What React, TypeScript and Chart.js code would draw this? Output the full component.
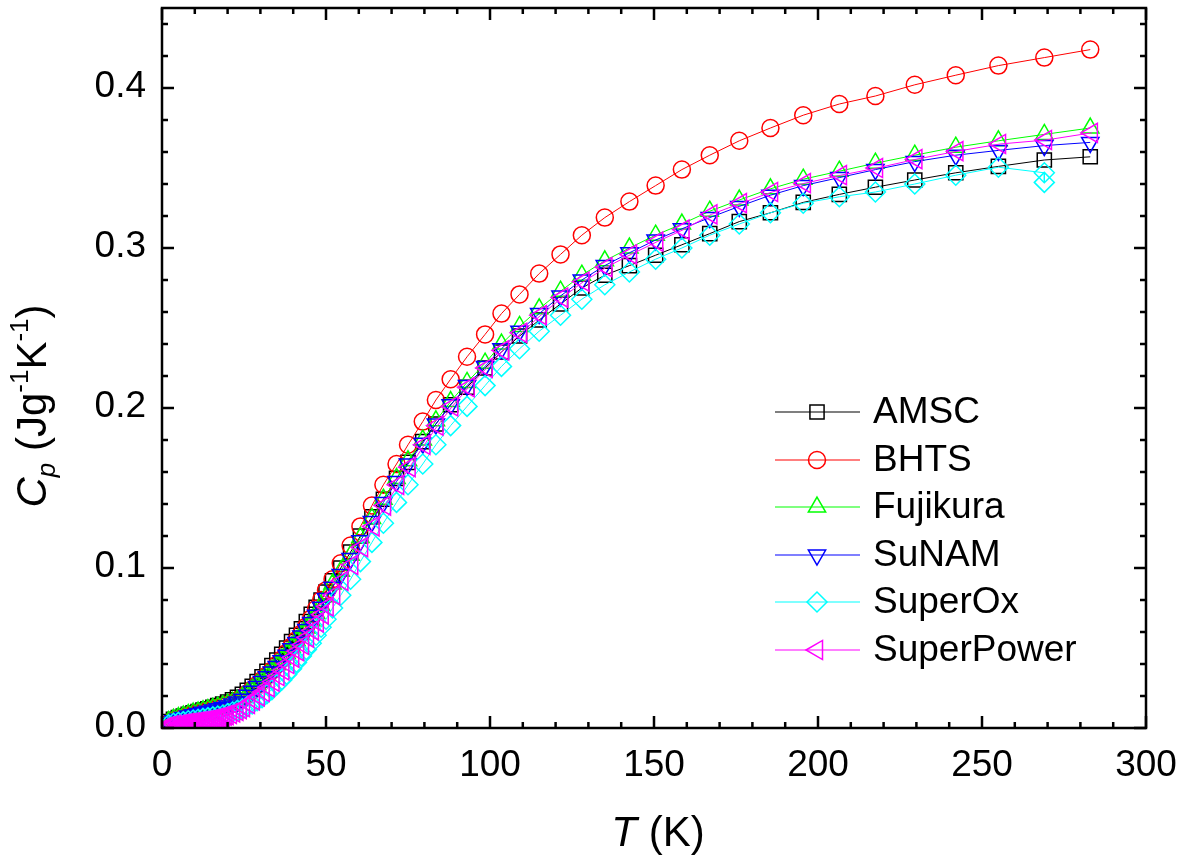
import { useEffect, useRef } from 'react';
import { Chart, registerables } from 'chart.js';

Chart.register(...registerables);

// ---------- data (T in K, Cp in J g^-1 K^-1) ----------
const temps = [
  2, 3.5, 5, 6.5, 8, 9.5, 11, 12.5, 14, 15.5, 17, 18.5, 20,
  21.5, 23, 24.5, 26, 27.5, 29, 30.5, 32, 33.5, 35, 36.5, 38, 39.5, 41, 42.5, 44, 45.5, 47, 48.5, 50,
  52, 54.5, 57.5, 60.5, 64, 67.5, 71.5, 75, 79.5, 83.5, 88, 93, 98.5, 103.5, 109, 115, 121.5, 128,
  135, 142.5, 150.5, 158.5, 167, 176, 185.5, 195.5, 206.5, 217.5, 229.5, 242, 255, 269, 283,
];

const amsc = [
  0.004, 0.0055, 0.0065, 0.0075, 0.0085, 0.0095, 0.0103, 0.0112, 0.012, 0.013, 0.014, 0.015, 0.0162,
  0.0176, 0.0192, 0.021, 0.0235, 0.026, 0.029, 0.032, 0.0355, 0.039, 0.0425, 0.046, 0.05, 0.054, 0.058, 0.062, 0.0665, 0.071, 0.0755, 0.08, 0.085,
  0.092, 0.1, 0.11, 0.12, 0.132, 0.143, 0.156, 0.166, 0.179, 0.19, 0.202, 0.213, 0.225, 0.235, 0.245, 0.255, 0.265, 0.275,
  0.283, 0.289, 0.2955, 0.302, 0.309, 0.3165, 0.322, 0.3285, 0.3335, 0.338, 0.3425, 0.347, 0.351, 0.355, 0.357,
];

const bhts = [
  0.003, 0.0045, 0.0055, 0.0065, 0.0075, 0.0085, 0.0093, 0.01, 0.011, 0.0118, 0.0126, 0.0135, 0.0145,
  0.0158, 0.0172, 0.019, 0.0215, 0.024, 0.027, 0.03, 0.033, 0.036, 0.0395, 0.043, 0.047, 0.051, 0.055, 0.059, 0.0635, 0.0685, 0.0745, 0.08, 0.086,
  0.093, 0.103, 0.114, 0.126, 0.139, 0.152, 0.165, 0.177, 0.1915, 0.205, 0.218, 0.232, 0.246, 0.259, 0.271, 0.284, 0.296, 0.308,
  0.319, 0.329, 0.339, 0.349, 0.358, 0.367, 0.375, 0.383, 0.39, 0.395, 0.402, 0.408, 0.414, 0.419, 0.424,
];

const fujikura = [
  0.004, 0.0055, 0.0065, 0.0075, 0.0085, 0.0093, 0.01, 0.0108, 0.0115, 0.0123, 0.013, 0.0138, 0.0148,
  0.016, 0.0173, 0.019, 0.0215, 0.024, 0.027, 0.03, 0.033, 0.036, 0.0395, 0.043, 0.0465, 0.0505, 0.0545, 0.0585, 0.0625, 0.067, 0.0715, 0.0765, 0.082,
  0.09, 0.098, 0.108, 0.119, 0.131, 0.143, 0.156, 0.167, 0.18, 0.192, 0.204, 0.216, 0.228, 0.24, 0.251, 0.262, 0.273, 0.283,
  0.292, 0.3, 0.308, 0.315, 0.323, 0.33, 0.337, 0.343, 0.348, 0.353, 0.358, 0.363, 0.367, 0.371, 0.375,
];

const sunam = [
  0.003, 0.0045, 0.0055, 0.0065, 0.0075, 0.0083, 0.009, 0.0098, 0.0105, 0.0113, 0.012, 0.0128, 0.0138,
  0.015, 0.0163, 0.018, 0.0205, 0.023, 0.026, 0.029, 0.032, 0.035, 0.0385, 0.042, 0.0455, 0.0495, 0.0535, 0.0575, 0.0615, 0.066, 0.0705, 0.0755, 0.081,
  0.088, 0.096, 0.106, 0.117, 0.129, 0.141, 0.154, 0.165, 0.178, 0.19, 0.202, 0.214, 0.226, 0.237, 0.248, 0.259, 0.27, 0.28,
  0.289, 0.297, 0.305, 0.312, 0.319, 0.326, 0.333, 0.339, 0.344, 0.349, 0.354, 0.358, 0.361, 0.364, 0.366,
];

const superOxTemps = [
  2, 3.5, 5, 6.5, 8, 9.5, 11, 12.5, 14, 15.5, 17, 18.5, 20,
  21.5, 23, 24.5, 26, 27.5, 29, 30.5, 32, 33.5, 35, 36.5, 38, 39.5, 41, 42.5, 44, 45.5, 47, 48.5, 50,
  52, 54.5, 57.5, 60.5, 64, 67.5, 71.5, 75, 79.5, 83.5, 88, 93, 98.5, 103.5, 109, 115, 121.5, 128,
  135, 142.5, 150.5, 158.5, 167, 176, 185.5, 195.5, 206.5, 217.5, 229.5, 242, 255, 269, 269,
];

const superOx = [
  0.002, 0.003, 0.0035, 0.004, 0.0045, 0.005, 0.0055, 0.006, 0.0065, 0.007, 0.0075, 0.008, 0.009,
  0.01, 0.011, 0.012, 0.0135, 0.015, 0.017, 0.019, 0.0215, 0.024, 0.027, 0.03, 0.0335, 0.037, 0.041, 0.045, 0.049, 0.053, 0.058, 0.063, 0.068,
  0.075, 0.083, 0.093, 0.104, 0.116, 0.128, 0.141, 0.152, 0.165, 0.177, 0.189, 0.201, 0.214, 0.226, 0.237, 0.248, 0.258, 0.268,
  0.277, 0.285, 0.293, 0.3, 0.308, 0.315, 0.322, 0.328, 0.332, 0.335, 0.34, 0.3455, 0.3505, 0.347, 0.341,
];

const superPowerTemps = [
  1, 2, 3, 4, 5, 5.6, 6.2, 6.8, 7.4, 8, 8.6, 9.2, 9.8, 10.4, 11, 11.6, 12.2, 12.8, 13.4, 14,
  14.6, 15.2, 15.8, 16.4, 17, 17.6, 18.2, 18.8, 19.4, 20, 21, 22, 23, 24, 25,
  26.5, 28, 29.5, 31, 32.5, 34, 35.5, 37, 38.5, 40, 41.5, 43, 44.5, 46, 47.5, 49, 50.5,
  52.5, 55, 58, 61, 64.5, 68, 72, 75.5, 80, 84, 88.5, 93.5, 99, 104, 109.5, 115.5, 122, 128.5,
  135.5, 143, 151, 159, 167.5, 176.5, 186, 196, 207, 218, 230, 242.5, 255.5, 269.5, 283.5,
];

const superPower = [
  0.0005, 0.001, 0.0015, 0.002, 0.002, 0.0022, 0.0024, 0.0026, 0.0028, 0.003, 0.0031, 0.0033, 0.0035, 0.0036, 0.0038, 0.004, 0.0042, 0.0044, 0.0046, 0.0048,
  0.005, 0.0053, 0.0056, 0.0059, 0.0062, 0.0065, 0.0069, 0.0073, 0.0077, 0.008, 0.0088, 0.0097, 0.0107, 0.0118, 0.013,
  0.015, 0.0172, 0.0197, 0.0225, 0.0255, 0.029, 0.0325, 0.036, 0.04, 0.044, 0.048, 0.052, 0.0565, 0.061, 0.066, 0.071, 0.076,
  0.083, 0.092, 0.102, 0.113, 0.126, 0.139, 0.152, 0.163, 0.177, 0.189, 0.201, 0.213, 0.225, 0.236, 0.247, 0.258, 0.269, 0.279,
  0.288, 0.296, 0.304, 0.3115, 0.321, 0.328, 0.335, 0.3405, 0.3455, 0.35, 0.3555, 0.3605, 0.365, 0.3675, 0.372,
];

const seriesNames = ['AMSC', 'BHTS', 'Fujikura', 'SuNAM', 'SuperOx', 'SuperPower'];
const seriesColors = ['#000000', '#FF0000', '#00FF00', '#0000FF', '#00FFFF', '#FF00FF'];

const xTickValues = [0, 50, 100, 150, 200, 250, 300];
const xTickLabels = ['0', '50', '100', '150', '200', '250', '300'];
const yTickValues = [0, 0.1, 0.2, 0.3, 0.4];
const yTickLabels = ['0.0', '0.1', '0.2', '0.3', '0.4'];

const FONT = '"Liberation Sans", Arial, Helvetica, sans-serif';

type Marker = { style: string; radius: number; rotation: number };
const markers: Marker[] = [
  { style: 'rect', radius: 10, rotation: 0 },
  { style: 'circle', radius: 8.5, rotation: 0 },
  { style: 'triangle', radius: 10, rotation: 0 },
  { style: 'triangle', radius: 10, rotation: 180 },
  { style: 'rectRot', radius: 10, rotation: 0 },
  { style: 'triangle', radius: 11, rotation: -90 },
];

function drawMarker(ctx: CanvasRenderingContext2D, m: Marker, x: number, y: number) {
  const r = m.radius;
  ctx.beginPath();
  if (m.style === 'circle') {
    ctx.arc(x, y, r, 0, Math.PI * 2);
  } else if (m.style === 'rect') {
    const s = r * Math.SQRT1_2;
    ctx.rect(x - s, y - s, 2 * s, 2 * s);
  } else if (m.style === 'rectRot') {
    ctx.moveTo(x - r, y);
    ctx.lineTo(x, y - r);
    ctx.lineTo(x + r, y);
    ctx.lineTo(x, y + r);
    ctx.closePath();
  } else {
    let rad = (m.rotation * Math.PI) / 180;
    ctx.moveTo(x + Math.sin(rad) * r, y - Math.cos(rad) * r);
    rad += (2 * Math.PI) / 3;
    ctx.lineTo(x + Math.sin(rad) * r, y - Math.cos(rad) * r);
    rad += (2 * Math.PI) / 3;
    ctx.lineTo(x + Math.sin(rad) * r, y - Math.cos(rad) * r);
    ctx.closePath();
  }
  ctx.stroke();
}

const decorPlugin = {
  id: 'decor',
  afterDatasetsDraw(chart: any) {
    const ctx: CanvasRenderingContext2D = chart.ctx;
    const { left, right, top, bottom } = chart.chartArea;
    const xs = chart.scales.x;
    const ys = chart.scales.y;
    ctx.save();
    ctx.strokeStyle = '#000';
    ctx.lineWidth = 2.5;
    ctx.lineCap = 'butt';
    ctx.strokeRect(left, top, right - left, bottom - top);
    ctx.beginPath();
    for (let i = 0; i <= 30; i++) {
      const px = xs.getPixelForValue(i * 10);
      const len = i % 5 === 0 ? 12 : 6;
      ctx.moveTo(px, bottom);
      ctx.lineTo(px, bottom - len);
      ctx.moveTo(px, top);
      ctx.lineTo(px, top + len);
    }
    for (let i = 0; i <= 22; i++) {
      const py = ys.getPixelForValue(i * 0.02);
      const len = i % 5 === 0 ? 12 : 6;
      ctx.moveTo(left, py);
      ctx.lineTo(left + len, py);
      ctx.moveTo(right, py);
      ctx.lineTo(right - len, py);
    }
    ctx.stroke();

    // tick labels
    ctx.fillStyle = '#000';
    ctx.font = `37px ${FONT}`;
    ctx.textAlign = 'center';
    ctx.textBaseline = 'alphabetic';
    xTickValues.forEach((v, i) => {
      ctx.fillText(xTickLabels[i], xs.getPixelForValue(v), bottom + 48);
    });
    ctx.textAlign = 'right';
    ctx.textBaseline = 'middle';
    yTickValues.forEach((v, i) => {
      ctx.fillText(yTickLabels[i], left - 16, ys.getPixelForValue(v) - 1);
    });

    // x title
    ctx.textBaseline = 'alphabetic';
    ctx.textAlign = 'left';
    const tSize = 42;
    ctx.font = `italic ${tSize}px ${FONT}`;
    const wT = ctx.measureText('T').width;
    ctx.font = `${tSize}px ${FONT}`;
    const wK = ctx.measureText(' (K)').width;
    const cx = (left + right) / 2 + 4;
    let sx = cx - (wT + wK) / 2;
    ctx.font = `italic ${tSize}px ${FONT}`;
    ctx.fillText('T', sx, 846);
    ctx.font = `${tSize}px ${FONT}`;
    ctx.fillText(' (K)', sx + wT, 846);

    // y title with sub/superscripts
    const sub = Math.round(tSize * 0.62);
    const parts: { t: string; font: string; dy: number }[] = [
      { t: 'C', font: `italic ${tSize}px ${FONT}`, dy: 0 },
      { t: 'p', font: `italic ${sub}px ${FONT}`, dy: 9 },
      { t: ' (Jg', font: `${tSize}px ${FONT}`, dy: 0 },
      { t: '-1', font: `${sub}px ${FONT}`, dy: -18 },
      { t: 'K', font: `${tSize}px ${FONT}`, dy: 0 },
      { t: '-1', font: `${sub}px ${FONT}`, dy: -18 },
      { t: ')', font: `${tSize}px ${FONT}`, dy: 0 },
    ];
    let total = 0;
    const widths = parts.map((p) => {
      ctx.font = p.font;
      const w = ctx.measureText(p.t).width;
      total += w;
      return w;
    });
    ctx.save();
    ctx.translate(46, 406);
    ctx.rotate(-Math.PI / 2);
    let lx = -total / 2;
    parts.forEach((p, i) => {
      ctx.font = p.font;
      ctx.fillText(p.t, lx, p.dy);
      lx += widths[i];
    });
    ctx.restore();

    // legend
    const rowsY = [412, 460, 507, 555, 602, 650];
    seriesNames.forEach((name, i) => {
      const y = rowsY[i];
      ctx.strokeStyle = seriesColors[i];
      ctx.lineWidth = 1.2;
      ctx.beginPath();
      ctx.moveTo(775, y);
      ctx.lineTo(860, y);
      ctx.stroke();
      ctx.lineWidth = 1.5;
      drawMarker(ctx, markers[i], 817, y);
      ctx.fillStyle = '#000';
      ctx.font = `37px ${FONT}`;
      ctx.textAlign = 'left';
      ctx.textBaseline = 'middle';
      ctx.fillText(name, 873, y + 1);
    });
    ctx.restore();
  },
};

function makeDataset(i: number, xsArr: number[], ysArr: number[], order: number) {
  const m = markers[i];
  return {
    label: seriesNames[i],
    data: xsArr.map((t, k) => ({ x: t, y: ysArr[k] })),
    borderColor: seriesColors[i],
    borderWidth: 1,
    pointStyle: m.style,
    pointRadius: m.radius,
    pointRotation: m.rotation,
    pointBorderColor: seriesColors[i],
    pointBackgroundColor: 'rgba(0,0,0,0)',
    pointBorderWidth: 1.5,
    fill: false,
    tension: 0,
    order,
  };
}

export default function App() {
  const ref = useRef<HTMLCanvasElement>(null);
  useEffect(() => {
    document.body.style.margin = '0';
    document.body.style.background = '#fff';
    const canvas = ref.current!;
    const chart = new Chart(canvas, {
      type: 'line',
      data: {
        datasets: [
          makeDataset(0, temps, amsc, 5),
          makeDataset(1, temps, bhts, 4),
          makeDataset(2, temps, fujikura, 3),
          makeDataset(3, temps, sunam, 2),
          makeDataset(4, superOxTemps, superOx, 1),
          makeDataset(5, superPowerTemps, superPower, 0),
        ] as any,
      },
      options: {
        responsive: false,
        animation: false,
        events: [],
        layout: { padding: { top: 8, right: 31, left: 0, bottom: 0 }, autoPadding: false },
        plugins: { legend: { display: false }, tooltip: { enabled: false }, title: { display: false } },
        scales: {
          x: {
            type: 'linear',
            min: 0,
            max: 300,
            ticks: { display: false },
            grid: { display: false, drawTicks: false },
            border: { display: false },
            afterFit: (s: any) => {
              s.height = 127;
            },
          },
          y: {
            type: 'linear',
            min: 0,
            max: 0.45,
            ticks: { display: false },
            grid: { display: false, drawTicks: false },
            border: { display: false },
            afterFit: (s: any) => {
              s.width = 162;
            },
          },
        },
      } as any,
      plugins: [decorPlugin],
    });
    return () => chart.destroy();
  }, []);
  return (
    <div style={{ width: 1177, height: 855, background: '#fff' }}>
      <canvas ref={ref} width={1177} height={855} style={{ width: 1177, height: 855, display: 'block' }} />
    </div>
  );
}
